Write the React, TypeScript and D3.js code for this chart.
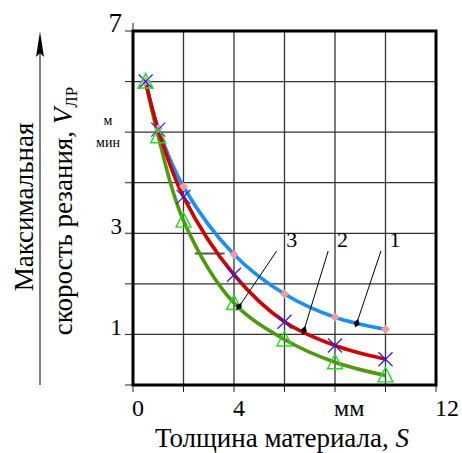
import React from "react";
import * as d3 from "d3";

const xs = [0.5, 1, 2, 4, 6, 8, 10];
const series1 = [6.0, 5.07, 3.92, 2.58, 1.8, 1.34, 1.1];
const series2 = [6.0, 5.05, 3.72, 2.18, 1.25, 0.78, 0.51];
const series3 = [6.0, 4.92, 3.25, 1.62, 0.9, 0.45, 0.19];

const xGrid = [2, 4, 6, 8, 10];
const yGrid = [1, 2, 3, 4, 5, 6];
const xTicks = [0, 2, 4, 6, 8, 10, 12];
const yTicks = [0, 1, 2, 3, 4, 5, 6, 7];
const xTickLabels = [
  { v: 0, t: "0" },
  { v: 4, t: "4" },
  { v: 8, t: "мм" },
  { v: 12, t: "12" },
];
const yTickLabels = [
  { v: 7, t: "7", big: true },
  { v: 3, t: "3", big: false },
  { v: 1, t: "1", big: false },
];

// annotation labels: label, text position, leader start, leader end (data coords)
const labelNames = ["3", "2", "1"];
const labelX = [6.29, 8.3, 10.38];
const labelY = [2.73, 2.73, 2.73];
const leaderStartX = [5.69, 7.73, 9.82];
const leaderStartY = [2.65, 2.65, 2.65];
const leaderEndX = [4.2, 6.77, 8.86];
const leaderEndY = [1.55, 1.08, 1.22];

// stray grey dash in the original
const dashX = [2.45, 3.63];
const dashY = [2.6, 2.6];

const FONT = "'Liberation Serif', 'Times New Roman', serif";

export default function App() {
  const x = d3.scaleLinear().domain([0, 12]).range([133, 436]);
  const y = d3.scaleLinear().domain([0, 7]).range([385, 31]);

  const line = d3
    .line<number>()
    .x((_, i) => x(xs[i]))
    .y((d) => y(d))
    .curve(d3.curveCatmullRom.alpha(0.5));

  const diamonds = xs.map((v, i) => ({ cx: x(v), cy: y(series1[i]) }));
  const crosses = xs.map((v, i) => ({ cx: x(v), cy: y(series2[i]) }));
  const tris = xs.map((v, i) => ({ cx: x(v), cy: y(series3[i]) }));

  const ts = { fontFamily: FONT };

  return (
    <svg
      width={462}
      height={453}
      style={{ position: "absolute", left: 0, top: 0, background: "#fff" }}
    >
      <rect x={0} y={0} width={462} height={453} fill="#fff" />
      {/* grid */}
      {xGrid.map((v) => (
        <line key={"gx" + v} x1={x(v)} x2={x(v)} y1={y(0)} y2={y(7)} stroke="#333" strokeWidth={1.3} />
      ))}
      {yGrid.map((v) => (
        <line key={"gy" + v} x1={x(0)} x2={x(12)} y1={y(v)} y2={y(v)} stroke="#333" strokeWidth={1.3} />
      ))}
      {/* ticks */}
      {yTicks.map((v) => (
        <line key={"ty" + v} x1={x(0) - 8} x2={x(0)} y1={y(v)} y2={y(v)} stroke="#222" strokeWidth={1} />
      ))}
      {xTicks.map((v) => (
        <line key={"tx" + v} x1={x(v)} x2={x(v)} y1={y(0)} y2={y(0) + 7} stroke="#222" strokeWidth={1} />
      ))}
      <line x1={x(0)} x2={x(0)} y1={y(7) - 8} y2={y(7)} stroke="#222" strokeWidth={1} />

      {/* stray dash */}
      <line x1={x(dashX[0])} x2={x(dashX[1])} y1={y(dashY[0])} y2={y(dashY[1])} stroke="#555" strokeWidth={2} />

      {/* curves */}
      <path d={line(series1) || ""} fill="none" stroke="#1a90f5" strokeWidth={3.6} strokeLinejoin="round" />
      <path d={line(series3) || ""} fill="none" stroke="#4e9a0c" strokeWidth={3.6} strokeLinejoin="round" />
      <path d={line(series2) || ""} fill="none" stroke="#d30000" strokeWidth={3.6} strokeLinejoin="round" />

      {/* markers */}
      {diamonds.map((p, i) => (
        <path
          key={"d" + i}
          d={`M${p.cx},${p.cy - 4.5}L${p.cx + 4.5},${p.cy}L${p.cx},${p.cy + 4.5}L${p.cx - 4.5},${p.cy}Z`}
          fill="#f59a9a"
        />
      ))}
      {crosses.map((p, i) => (
        <g key={"c" + i} stroke="#2222ff" strokeWidth={1.3}>
          <line x1={p.cx - 7} x2={p.cx + 7} y1={p.cy - 7} y2={p.cy + 7} />
          <line x1={p.cx - 7} x2={p.cx + 7} y1={p.cy + 7} y2={p.cy - 7} />
        </g>
      ))}
      {tris.map((p, i) => (
        <path
          key={"t" + i}
          d={`M${p.cx},${p.cy - 8}L${p.cx + 7.5},${p.cy + 6.5}L${p.cx - 7.5},${p.cy + 6.5}Z`}
          fill="none"
          stroke="#22dd22"
          strokeWidth={1.4}
        />
      ))}

      {/* leaders */}
      {labelNames.map((name, i) => {
        const x1 = x(leaderStartX[i]);
        const y1 = y(leaderStartY[i]);
        const x2 = x(leaderEndX[i]);
        const y2 = y(leaderEndY[i]);
        const ang = Math.atan2(y2 - y1, x2 - x1);
        const ux = Math.cos(ang), uy = Math.sin(ang);
        const px = -uy, py = ux;
        const L = 4.5, W = 3;
        const head = `M${x2 + ux * L},${y2 + uy * L}L${x2 + px * W},${y2 + py * W}L${x2 - ux * L},${y2 - uy * L}L${x2 - px * W},${y2 - py * W}Z`;
        return (
          <g key={"l" + name}>
            <line x1={x1} y1={y1} x2={x2} y2={y2} stroke="#000" strokeWidth={1} />
            <path d={head} fill="#000" />
            <text x={x(labelX[i])} y={y(labelY[i])} fontSize={22} textAnchor="middle" fill="#000" style={ts}>
              {name}
            </text>
          </g>
        );
      })}

      {/* frame */}
      <rect x={x(0)} y={y(7)} width={x(12) - x(0)} height={y(0) - y(7)} fill="none" stroke="#000" strokeWidth={3} />

      {/* tick labels */}
      {xTickLabels.map((d) => (
        <text key={"xl" + d.v} x={x(d.v) - 1} y={416} fontSize={24} textAnchor="start" fill="#000" style={ts}>
          {d.t}
        </text>
      ))}
      {yTickLabels.map((d) => (
        <text key={"yl" + d.v} x={122} y={y(d.v) + 1} fontSize={d.big ? 27 : 23} textAnchor="end" fill="#000" style={ts}>
          {d.t}
        </text>
      ))}
      <text x={108} y={125} fontSize={14} textAnchor="middle" fill="#000" style={ts}>м</text>
      <text x={108} y={147} fontSize={14} textAnchor="middle" fill="#000" style={ts}>мин</text>

      {/* x axis title */}
      <text x={282} y={447} fontSize={27} textAnchor="middle" fill="#000" style={ts}>
        Толщина материала, <tspan fontStyle="italic">S</tspan>
      </text>

      {/* y axis title */}
      <text transform="translate(33,207) rotate(-90)" fontSize={27} textAnchor="middle" fill="#000" style={ts}>
        Максимальная
      </text>
      <text transform="translate(72,211) rotate(-90)" fontSize={27} textAnchor="middle" fill="#000" style={ts}>
        скорость резания, <tspan fontStyle="italic">V</tspan>
        <tspan fontSize={17} dy={5}>ЛР</tspan>
      </text>

      {/* arrow */}
      <line x1={40} x2={40} y1={385} y2={50} stroke="#555" strokeWidth={1.5} />
      <path d="M40,31.5L44,57L40,53L36,57Z" fill="#000" />
    </svg>
  );
}
